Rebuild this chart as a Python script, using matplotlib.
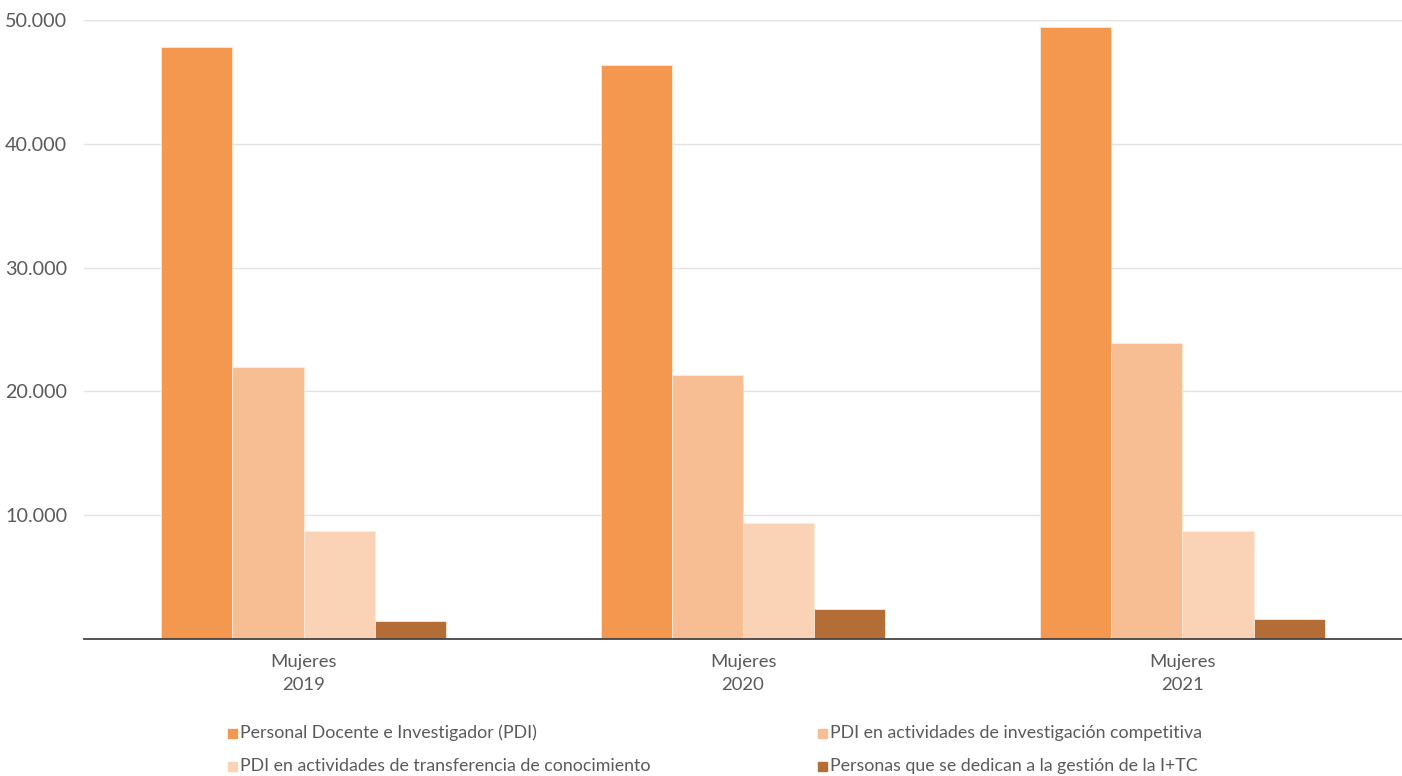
import matplotlib
matplotlib.use("Agg")
import matplotlib.pyplot as plt
import numpy as np
from matplotlib.patches import Rectangle
from matplotlib.ticker import FuncFormatter

# Data
years = ["2019", "2020", "2021"]
group_label = "Mujeres"
series_names = [
    "Personal Docente e Investigador (PDI)",
    "PDI en actividades de investigación competitiva",
    "PDI en actividades de transferencia de conocimiento",
    "Personas que se dedican a la gestión de la I+TC",
]
pdi = [47850, 46350, 49450]
competitiva = [21970, 21330, 23910]
transferencia = [8720, 9370, 8720]
gestion = [1450, 2420, 1620]
colors = ["#F4974F", "#F7BD93", "#FAD3B7", "#B56D38"]
yticks = [10000, 20000, 30000, 40000, 50000]

plt.rcParams["font.family"] = ["Lato", "DejaVu Sans"]

W, H = 1402, 776
fig = plt.figure(figsize=(W / 100, H / 100), dpi=100)
ax = fig.add_axes([84 / W, 1 - 639 / H, 1 - 84 / W, (639 - 20) / H])

values = [pdi, competitiva, transferencia, gestion]
x = np.arange(len(years))
bw = 0.162
for i, (vals, c) in enumerate(zip(values, colors)):
    ax.bar(x + (i - 1.5) * bw, vals, width=bw, color=c,
           edgecolor="#FCE9DA", linewidth=0.6, zorder=2)

ax.set_xlim(-0.5, len(years) - 0.5)
ax.set_ylim(0, 50000)
ax.set_yticks(yticks)
ax.yaxis.set_major_formatter(FuncFormatter(lambda v, p: f"{int(v):,}".replace(",", ".")))
ax.grid(axis="y", color="#E3E3E3", linewidth=1, zorder=0)
ax.set_xticks(x)
ax.set_xticklabels([f"{group_label}\n{y}" for y in years], linespacing=1.5)
ax.tick_params(axis="x", length=0, labelsize=13.3, labelcolor="#5A5A5A", pad=11)
ax.tick_params(axis="y", length=0, labelsize=14.2, labelcolor="#5A5A5A", pad=12)
for s in ["top", "right", "left"]:
    ax.spines[s].set_visible(False)
ax.spines["bottom"].set_color("#444444")
ax.spines["bottom"].set_linewidth(1.3)
ax.spines["bottom"].set_zorder(3)

# Legend, two columns
col_x = [228, 818]
row_y = [733, 766]
sq = 9
for i, (name, c) in enumerate(zip(series_names, colors)):
    cx = col_x[i % 2]
    cy = row_y[i // 2]
    fig.patches.append(Rectangle((cx / W, 1 - (cy + sq / 2) / H), sq / W, sq / H,
                                 transform=fig.transFigure, color=c))
    fig.text((cx + sq + 3) / W, 1 - cy / H, name, fontsize=12.8, color="#5A5A5A",
             va="center", ha="left")

fig.savefig("out.png", dpi=100)
